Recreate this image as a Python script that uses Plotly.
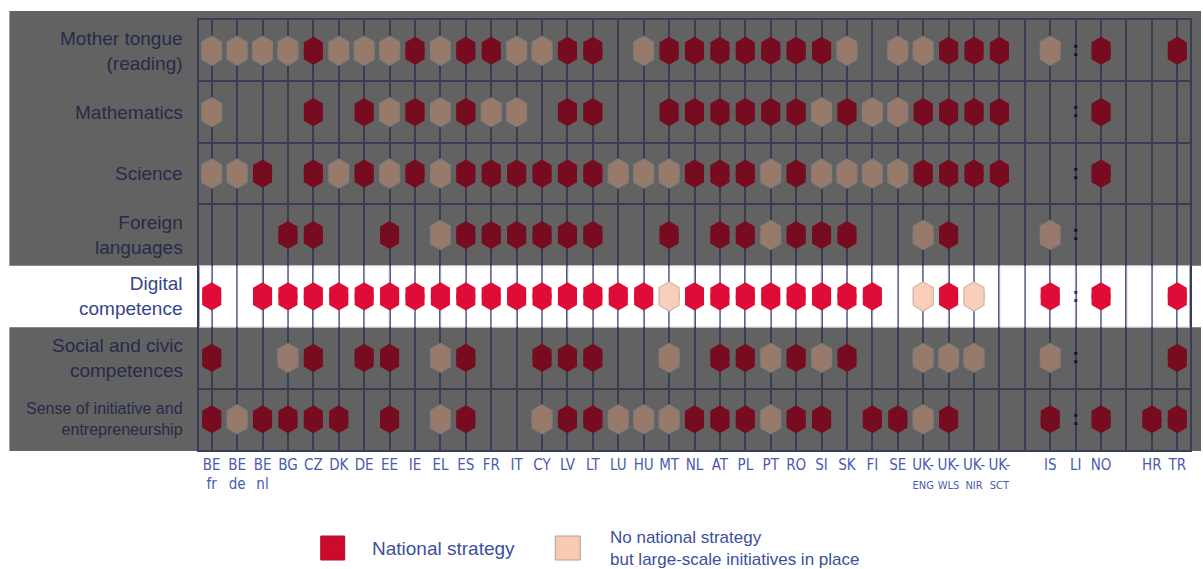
import plotly.graph_objects as go

# ---------------- data ----------------
COUNTRIES = ["BE fr", "BE de", "BE nl", "BG", "CZ", "DK", "DE", "EE", "IE", "EL",
             "ES", "FR", "IT", "CY", "LV", "LT", "LU", "HU", "MT", "NL", "AT",
             "PL", "PT", "RO", "SI", "SK", "FI", "SE", "UK-ENG", "UK-WLS",
             "UK-NIR", "UK-SCT", "IS", "LI", "NO", "HR", "TR"]
GROUP_BREAK_AFTER = ["UK-SCT", "NO"]

ROWS = ["Mother tongue<br>(reading)", "Mathematics", "Science",
        "Foreign<br>languages", "Digital<br>competence",
        "Social and civic<br>competences",
        "Sense of initiative and<br>entrepreneurship"]
HIGHLIGHT_ROW = "Digital<br>competence"

# N = national strategy, L = no national strategy but large-scale initiatives,
# . = none, : = not available
mother_tongue = "L L L L N L L L N L N N L L N N . L N N N N N N N L . L L N N N L : N . N".split()
mathematics   = "L . . . N . N L N L N L L . N N . . N N N N N N L N L L N N N N . : N . .".split()
science       = "L L N . N L N L N L N N N N N N L L L N N N L N L L L L N N N N . : N . .".split()
foreign_lang  = ". . . N N . . N . L N N N N N N . . N . N N L N N N . . L N . . L : . . .".split()
digital       = "N . N N N N N N N N N N N N N N N N L N N N N N N N N . L N L . N : N . N".split()
social_civic  = "N . . L N . N N . L N . . N N N . . L . N N L N L N . . L L L . L : . . N".split()
initiative    = "N L N N N N . N . L N . . L N N L L L N N N L N N . N N L N . . N : N N N".split()
STATUS = [mother_tongue, mathematics, science, foreign_lang, digital, social_civic, initiative]

LEGEND_LABELS = ["National strategy", "No national strategy<br>but large-scale initiatives in place"]

# ---------------- styles ----------------
W, H = 1203, 569
ML, MR, MT, MB = 199, 11, 20, 119
GRAY = "#626262"
GRID_DARK = "#393c55"
GRID_LIGHT = "#939bc6"
HEX_SIZE = 22
HEX_STRETCH = 0.05
STYLE = {
    ("gray", "N"): dict(fill="#770b1f", line="#5e0a18", lw=0),
    ("gray", "L"): dict(fill="#977a69", line="#7c7c7e", lw=2),
    ("white", "N"): dict(fill="#de0c36", line="#c00a2e", lw=0),
    ("white", "L"): dict(fill="#f9cfb9", line="#c4aca4", lw=2),
}
COUNTRY_FONT = dict(family="Liberation Sans Narrow, DejaVu Sans Condensed, Roboto Condensed, sans-serif",
                    size=15, color="#4a5ab0")
SUBLINE_SIZE = 11
LABEL_FAMILY = "Liberation Sans, Arial, sans-serif"

# slot positions (gaps between country groups)
slots = []
s = 0
for c in COUNTRIES:
    slots.append(s)
    s += 1
    if c in GROUP_BREAK_AFTER:
        s += 1
n_slots = s
slot_of = dict(zip(COUNTRIES, slots))

fig = go.Figure()

# hexagon traces
hi = ROWS.index(HIGHLIGHT_ROW)
for band in ("gray", "white"):
    for code in ("L", "N"):
        xs, ys = [], []
        for r, row in enumerate(STATUS):
            if (r == hi) != (band == "white"):
                continue
            for c, v in zip(COUNTRIES, row):
                if v == code:
                    xs.append(slot_of[c])
                    ys.append(r)
        st = STYLE[(band, code)]
        passes = []
        if st["lw"] > 0:
            passes.append(st["lw"])
        passes.append(0)
        for lw in passes:
            for sign in (-1, 1):
                fig.add_trace(go.Scatter(
                    x=xs, y=[y + sign * HEX_STRETCH for y in ys], mode="markers",
                    marker=dict(symbol="hexagon", size=HEX_SIZE, color=st["fill"],
                                line=dict(width=lw, color=st["line"])),
                    hoverinfo="skip", showlegend=False))

# not available markers
na_x, na_y, na_c = [], [], []
for r, row in enumerate(STATUS):
    for c, v in zip(COUNTRIES, row):
        if v == ":":
            na_x.append(slot_of[c])
            na_y.append(r)
            na_c.append("#2c3058" if r == hi else "#15151f")
fig.add_trace(go.Scatter(x=na_x, y=na_y, mode="text", text=["<b>:</b>"] * len(na_x),
                         textfont=dict(size=21, color=na_c, family=LABEL_FAMILY),
                         hoverinfo="skip", showlegend=False))

# ---------------- layout ----------------
nrows = len(ROWS)
pw = W - ML - MR
ph = H - MT - MB
def py(v):  # data y -> paper y (reversed axis)
    return (nrows - 0.5 - v) / nrows

shapes = []
x0p = (9 - ML) / pw
x1p = (W - ML) / pw
# gray bands
shapes.append(dict(type="rect", xref="paper", yref="paper", x0=x0p, x1=x1p,
                   y0=py(hi - 0.5), y1=1 + 9 / ph, fillcolor=GRAY, line=dict(width=0), layer="below"))
shapes.append(dict(type="rect", xref="paper", yref="paper", x0=x0p, x1=x1p,
                   y0=py(nrows - 0.5) - 1 / ph, y1=py(hi + 0.5), fillcolor=GRAY, line=dict(width=0), layer="below"))
# white highlight band over the grid
shapes.append(dict(type="rect", xref="paper", yref="y", x0=0, x1=1,
                   y0=hi - 0.5, y1=hi + 0.5, fillcolor="white",
                   line=dict(width=1, color="#c3c9e2"), layer="between"))
for k in range(n_slots):
    shapes.append(dict(type="line", xref="x", yref="y", x0=k, x1=k, y0=hi - 0.5, y1=hi + 0.5,
                       line=dict(color=GRID_LIGHT, width=1.5), layer="between"))
for xb in (-0.5, n_slots - 0.5):
    shapes.append(dict(type="line", xref="x", yref="y", x0=xb, x1=xb, y0=hi - 0.5, y1=hi + 0.5,
                       line=dict(color=GRID_LIGHT, width=1.5), layer="between"))

# legend squares
def pxx(v):
    return (v - ML) / pw
def pxy(v):
    return (H - MB - v) / ph
shapes.append(dict(type="rect", xref="paper", yref="paper", x0=pxx(321), x1=pxx(345),
                   y0=pxy(560), y1=pxy(536), fillcolor="#cc0a2e", line=dict(width=1, color="#b00a28")))
shapes.append(dict(type="rect", xref="paper", yref="paper", x0=pxx(556), x1=pxx(581),
                   y0=pxy(560), y1=pxy(536), fillcolor="#f8cab2", line=dict(width=1, color="#a9a0a0")))

annotations = []
for r, lab in enumerate(ROWS):
    size = 16 if r == nrows - 1 else 19
    col = "#34438e" if r == hi else "#262b4a"
    annotations.append(dict(xref="paper", yref="y", x=(185 - ML) / pw, y=r, text=lab,
                            xanchor="right", yanchor="middle", align="right", showarrow=False,
                            font=dict(family=LABEL_FAMILY, size=size, color=col)))
annotations.append(dict(xref="paper", yref="paper", x=pxx(370), y=pxy(548), text=LEGEND_LABELS[0],
                        xanchor="left", yanchor="middle", showarrow=False,
                        font=dict(family=LABEL_FAMILY, size=19, color="#3c4f9e")))
annotations.append(dict(xref="paper", yref="paper", x=pxx(609), y=pxy(548), text=LEGEND_LABELS[1],
                        xanchor="left", yanchor="middle", align="left", showarrow=False,
                        font=dict(family=LABEL_FAMILY, size=17, color="#3c4f9e")))

tickvals = list(range(n_slots))
ticktext = [""] * n_slots
for c in COUNTRIES:
    if c.startswith("UK-"):
        lab = "UK-<br><span style='font-size:%dpx'>%s</span>" % (SUBLINE_SIZE, c[3:])
    else:
        lab = c.replace(" ", "<br>")
    ticktext[slot_of[c]] = lab

fig.update_layout(
    width=W, height=H,
    margin=dict(l=ML, r=MR, t=MT, b=MB),
    paper_bgcolor="white", plot_bgcolor="rgba(0,0,0,0)",
    shapes=shapes, annotations=annotations, showlegend=False,
    xaxis=dict(range=[-0.5, n_slots - 0.5], tickmode="array", tickvals=tickvals, ticktext=ticktext,
               tickangle=0, automargin=False,
               showgrid=True, gridcolor=GRID_DARK, gridwidth=1.5, zeroline=False,
               showline=True, mirror=True, linecolor=GRID_DARK, linewidth=1.5,
               ticks="", tickfont=COUNTRY_FONT, fixedrange=True),
    yaxis=dict(range=[nrows - 0.5, -0.5], tickmode="array",
               tickvals=[r + 0.5 for r in range(nrows - 1) if r not in (hi - 1, hi)],
               showticklabels=False, showgrid=True, gridcolor=GRID_DARK, gridwidth=1.5,
               zeroline=False, showline=True, mirror=True, linecolor=GRID_DARK, linewidth=1.5,
               ticks="", fixedrange=True),
)

fig.write_html("out.html", config={"displayModeBar": False},
               post_script="document.body.style.margin='0';")
